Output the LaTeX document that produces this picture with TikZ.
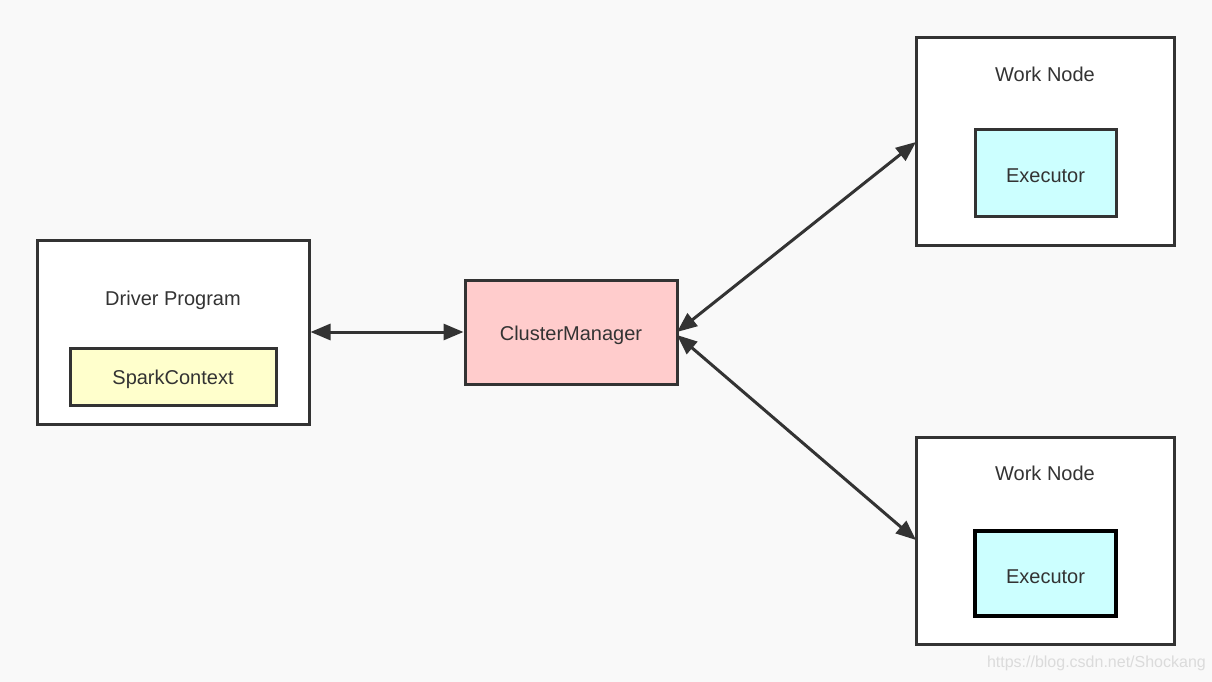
\documentclass[tikz,border=0pt]{standalone}
\usepackage{fontspec}
\setmainfont{Liberation Sans}
\usetikzlibrary{arrows.meta}
\definecolor{bg}{HTML}{F9F9F9}
\definecolor{ink}{HTML}{333333}
\definecolor{yel}{HTML}{FFFFCC}
\definecolor{pinkc}{HTML}{FFCCCC}
\definecolor{cyanc}{HTML}{CCFFFF}
\tikzset{
  outerbox/.style={draw=ink, line width=3pt, fill=white, inner sep=0pt},
  innerbox/.style={draw=ink, line width=3pt, inner sep=0pt},
  lbl/.style={text=ink, font=\fontsize{20}{24}\selectfont, inner sep=0pt},
  link/.style={draw=ink, line width=3pt, {Triangle[length=20pt,width=16pt]}-{Triangle[length=20pt,width=16pt]}}
}
\begin{document}
\begin{tikzpicture}[x=1pt,y=-1pt]
\useasboundingbox (0,0) rectangle (1212,682);
\fill[bg] (0,0) rectangle (1212,682);
% Driver
\node[outerbox, minimum width=272pt, minimum height=184pt] (drv) at (173,332) {};
\node[lbl] (drvl) at (173,300) {Driver Program};
\node[innerbox, fill=yel, minimum width=206pt, minimum height=57pt,
  label={[lbl, yshift=-3pt]center:SparkContext}] (sc) at (173,376.5) {};
% Cluster manager
\node[innerbox, fill=pinkc, minimum width=212pt, minimum height=104pt,
  label={[lbl, yshift=-3.5pt]center:ClusterManager}] (cm) at (571,332) {};
% Work node 1
\node[outerbox, minimum width=258pt, minimum height=207pt] (wn1) at (1045,141.5) {};
\node[lbl] (wn1l) at (1045,74) {Work Node};
\node[innerbox, fill=cyanc, minimum width=141pt, minimum height=86pt,
  label={[lbl, yshift=-3pt]center:Executor}] (ex1) at (1045.5,173) {};
% Work node 2
\node[outerbox, minimum width=258pt, minimum height=207pt] (wn2) at (1045,540.5) {};
\node[lbl] (wn2l) at (1045,473) {Work Node};
\node[innerbox, draw=black, line width=3.5pt, fill=cyanc, minimum width=141pt, minimum height=85pt,
  label={[lbl, yshift=-3pt]center:Executor}] (ex2) at (1045.5,573.5) {};
% connectors
\coordinate (cmA) at (677,332);
\coordinate (cmB) at (677,335);
\coordinate (w1) at (916,142);
\coordinate (w2) at (916,540);
\draw[link] (drv.east) -- (cm.west);
\draw[link] (cmA) -- (w1);
\draw[link] (cmB) -- (w2);
% watermark
\node[text=black!14, font=\fontsize{16}{18}\selectfont, anchor=east, inner sep=0pt] (wm) at (1206,663) {https://blog.csdn.net/Shockang};
\end{tikzpicture}
\end{document}
